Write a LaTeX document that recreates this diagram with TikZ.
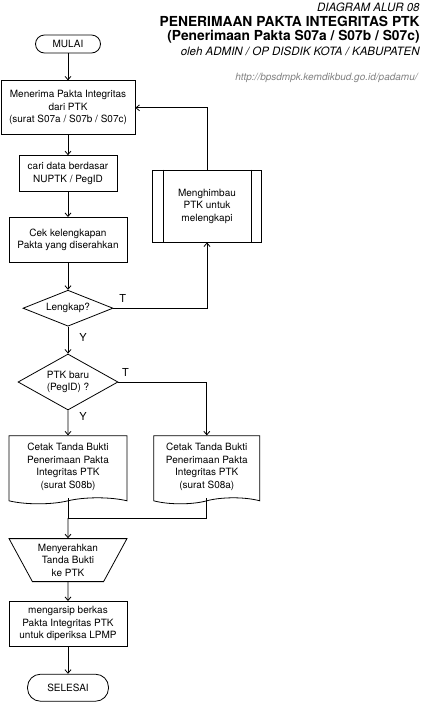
\documentclass[tikz,border=0pt]{standalone}
\usepackage{fontspec}
\setmainfont{TeX Gyre Heros}
\usepackage{tikz}
\usetikzlibrary{arrows.meta,positioning,shapes.geometric,shapes.symbols}
\definecolor{ink}{HTML}{000000}
\definecolor{urlgray}{HTML}{808080}

\begin{document}
\begin{tikzpicture}[x=1pt,y=-1pt,line width=.8pt,>={Straight Barb[length=3.5pt,width=6pt]},
  every node/.style={font=\fontsize{10}{12.5}\selectfont},
  box/.style={draw=ink,align=center,inner sep=2pt},
  ujung/.style={box,minimum width=65pt,minimum height=18pt,rounded corners=9pt},
  cabang/.style={box,diamond,aspect=2,inner sep=0pt},
  doc/.style={box,tape,tape bend top=none,tape bend bottom=in and out,tape bend height=6pt,minimum width=118pt,minimum height=68pt},
  manual/.style={box,trapezium,shape border rotate=180,trapezium angle=60,trapezium stretches=true,minimum width=118pt,minimum height=43pt},
  lbl/.style={font=\fontsize{11}{13}\selectfont,inner sep=1pt},
  judul/.style={anchor=base east,inner sep=0pt}]
  \useasboundingbox (0,0) rectangle (423,702);
  % judul
  \node[judul,font=\fontsize{11.5}{13}\selectfont\itshape] (t1) at (420,11) {DIAGRAM ALUR 08};
  \node[judul,font=\fontsize{13.8}{16}\selectfont\bfseries] (t2) at (420,26) {PENERIMAAN PAKTA INTEGRITAS PTK};
  \node[judul,font=\fontsize{13.8}{16}\selectfont\bfseries] (t3) at (420,40) {(Penerimaan Pakta S07a / S07b / S07c)};
  \node[judul,font=\fontsize{11.5}{13}\selectfont\itshape] (t4) at (420,55) {oleh ADMIN / OP DISDIK KOTA / KABUPATEN};
  \node[judul,font=\fontsize{10}{12}\selectfont\itshape,text=urlgray] (t5) at (418,80) {http://bpsdmpk.kemdikbud.go.id/padamu/};
  % alur utama
  \node[ujung] (mulai) at (68,44) {MULAI};
  \node[box,minimum width=134pt,minimum height=54pt,below=27pt of mulai] (terima) {Menerima Pakta Integritas\\dari PTK\\(surat S07a / S07b / S07c)};
  \node[box,minimum width=98pt,minimum height=36pt,below=20pt of terima] (cari) {cari data berdasar\\NUPTK / PegID};
  \node[box,minimum width=118pt,minimum height=45pt,below=25pt of cari] (cek) {Cek kelengkapan\\Pakta yang diserahkan};
  \node[cabang,minimum width=90pt,minimum height=36pt,below=27pt of cek] (lengkap) {Lengkap?};
  \node[cabang,minimum width=100pt,minimum height=56pt,below=27pt of lengkap] (baru) {PTK baru\\(PegID) ?};
  \node[doc,below=25pt of baru] (cetakb) {Cetak Tanda Bukti\\Penerimaan Pakta\\Integritas PTK\\(surat S08b)};
  \node[doc,minimum width=106pt,right=26pt of cetakb] (cetaka) {Cetak Tanda Bukti\\Penerimaan Pakta\\Integritas PTK\\(surat S08a)};
  \node[manual,below=40pt of cetakb] (serah) {Menyerahkan\\Tanda Bukti\\ke PTK};
  \node[box,minimum width=118pt,minimum height=45pt,below=19pt of serah] (arsip) {mengarsip berkas\\Pakta Integritas PTK\\untuk diperiksa LPMP};
  \node[ujung,minimum width=81pt,minimum height=27pt,rounded corners=13pt,below=27pt of arsip] (selesai) {SELESAI};
  % cabang kanan
  \node[box,minimum width=109pt,minimum height=72pt] (himbau) at (207,206) {Menghimbau\\PTK untuk\\melengkapi};
  \draw ([xshift=11pt]himbau.north west) -- ([xshift=11pt]himbau.south west)
        ([xshift=-11pt]himbau.north east) -- ([xshift=-11pt]himbau.south east);
  % panah
  \draw[->] (mulai) -- (terima);
  \draw[->] (terima) -- (cari);
  \draw[->] (cari) -- (cek);
  \draw[->] (cek) -- (lengkap);
  \draw[->] (lengkap) -- node[pos=.4,right=10pt,lbl] {Y} (baru);
  \draw[->] (lengkap.east) -| node[pos=.05,above=4pt,lbl] {T} (himbau.south);
  \draw[->] (himbau.north) |- (terima.east);
  \draw[->] (baru) -- node[pos=.25,right=10pt,lbl] {Y} (cetakb);
  \draw[->] (baru.east) -| node[pos=.04,above=4pt,lbl] {T} (cetaka.north);
  \coordinate[below=20pt of cetakb.south] (gabung);
  \draw (cetakb.south) -- (gabung);
  \draw (cetaka.south) |- (gabung);
  \draw[->] (gabung) -- (serah);
  \draw[->] (serah) -- (arsip);
  \draw[->] (arsip) -- (selesai);
\end{tikzpicture}
\end{document}
